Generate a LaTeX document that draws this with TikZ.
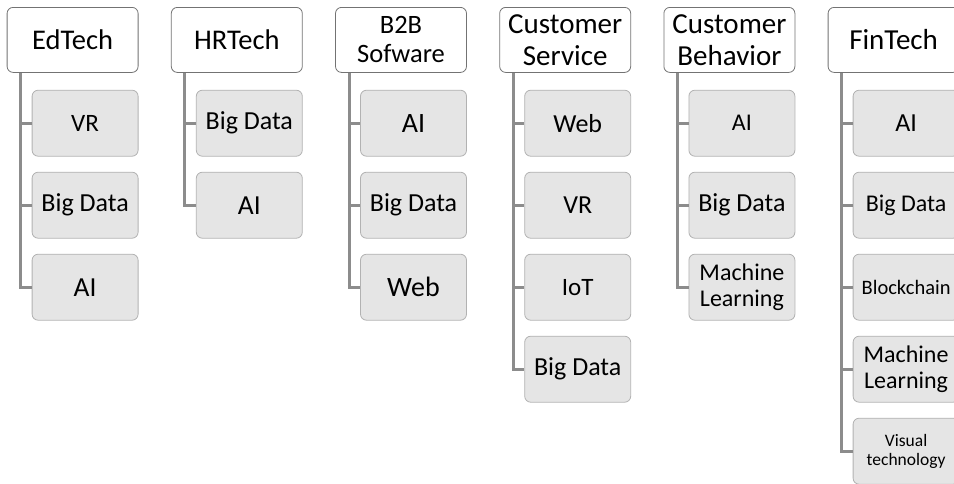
\documentclass[tikz,border=0pt]{standalone}
\usepackage{fontspec}
\setmainfont{Carlito}
\usetikzlibrary{positioning}

\begin{document}
\begin{tikzpicture}
  [
   x=1pt,y=-1pt,
   head/.style={draw=black!55, fill=white, rounded corners=6pt, line width=0.8pt,
                minimum width=131pt, minimum height=65pt, inner sep=0pt, align=center},
   leaf/.style={draw=black!30, fill=black!10, rounded corners=6pt, line width=0.8pt,
                minimum width=106pt, minimum height=66pt, inner sep=0pt, align=center},
   link/.style={draw=black!45, line width=3pt}
  ]
  \useasboundingbox (0,0) rectangle (954,483);
  % 每一列: 编号/标题/字号/子项(文字/字号)
  \foreach \n/\title/\hs/\kids in
    {
     1/EdTech/28.5/{VR/25,Big Data/26,AI/27.5},
     2/HRTech/28.5/{Big Data/26,AI/27.5},
     3/{B2B\\Sofware}/26.5/{AI/28,Big Data/26,Web/28},
     4/{Customer\\Service}/29/{Web/26,VR/26,IoT/25,Big Data/26},
     5/{Customer\\Behavior}/29/{AI/24,Big Data/26,{Machine\\Learning}/24},
     6/FinTech/29/{AI/26,Big Data/24,Blockchain/20.5,{Machine\\Learning}/24,{Visual\\technology}/17.5}}
    {
     \pgfmathsetmacro\hx{6.7+(\n-1)*164.2}
     \pgfmathsetmacro\hb{1.1*\hs}
     \node[head, anchor=north west, font=\fontsize{\hs}{\hb}\selectfont]
          (h\n) at (\hx,7) {\title};
     % 子项依次向下排列, 用折线连到标题框
     \foreach \t/\s [count=\i] in \kids
       {
        \pgfmathsetmacro\dy{17+(\i-1)*82}
        \pgfmathsetmacro\sb{1.08*\s}
        \node[leaf, below left=\dy pt and 0pt of h\n.south east,
              font=\fontsize{\s}{\sb}\selectfont] (c\n-\i) {\t};
        \draw[link] ([xshift=14pt]h\n.south west) |- (c\n-\i.west);
       }
    }
\end{tikzpicture}
\end{document}
